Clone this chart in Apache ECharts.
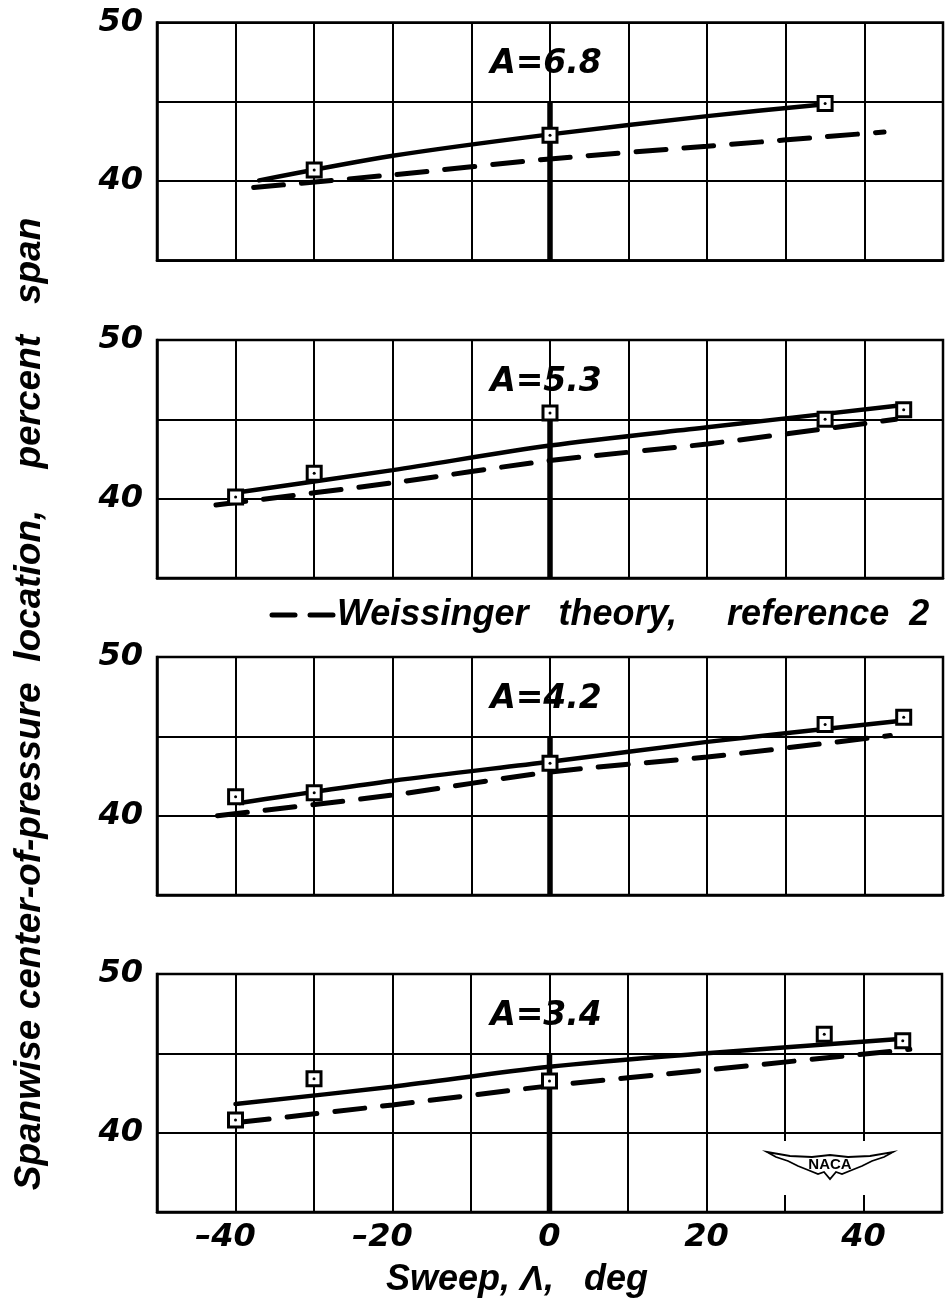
<!DOCTYPE html>
<html>
<head>
<meta charset="utf-8">
<script src="https://cdn.jsdelivr.net/npm/echarts@6/dist/echarts.min.js"></script>
<style>
html,body{margin:0;padding:0;background:#fff;}
#c{width:945px;height:1304px;}
</style>
</head>
<body>
<div id="c"></div>
<script>
// ---------- data ----------
const panelLabels = ['A=6.8', 'A=5.3', 'A=4.2', 'A=3.4'];
const sweepTicks = [-40, -20, 0, 20, 40];
const cpTicks = [40, 50];

// A = 6.8
const test68Sweep = [-30, 0, 35];
const test68Cp = [40.7, 42.9, 44.9];
const fair68Sweep = [-37, -20, 0, 20, 35];
const fair68Cp = [40.05, 41.6, 42.95, 44.1, 44.85];
const theory68Sweep = [-37.7, -20, 0, 20, 42.5];
const theory68Cp = [39.6, 40.4, 41.4, 42.2, 43.1];

// A = 5.3
const test53Sweep = [-40, -30, 0, 35, 45];
const test53Cp = [40.1, 41.6, 45.4, 45.0, 45.6];
const fair53Sweep = [-39.6, -20, 0, 20, 45];
const fair53Cp = [40.4, 41.8, 43.35, 44.5, 45.9];
const theory53Sweep = [-42.5, -20, 0, 20, 44];
const theory53Cp = [39.6, 41.0, 42.4, 43.45, 45.0];

// A = 4.2
const test42Sweep = [-40, -30, 0, 35, 45];
const test42Cp = [41.2, 41.45, 43.3, 45.75, 46.2];
const fair42Sweep = [-39.5, -20, 0, 20, 45];
const fair42Cp = [40.8, 42.2, 43.4, 44.65, 46.0];
const theory42Sweep = [-42.3, -20, 0, 20, 43.3];
const theory42Cp = [40.0, 41.3, 42.75, 43.7, 45.05];

// A = 3.4
const test34Sweep = [-40, -30, 0, 35, 45];
const test34Cp = [40.8, 43.4, 43.25, 46.2, 45.8];
const fair34Sweep = [-40, -20, 0, 20, 44.6];
const fair34Cp = [41.8, 42.9, 44.15, 45.0, 45.9];
const theory34Sweep = [-39.5, -20, 0, 20, 45.9];
const theory34Cp = [40.65, 41.75, 42.95, 43.95, 45.25];

// heavy reference bar at zero sweep
const refSweep = [0, 0];
const refCp = [35, 45];

// ---------- layout ----------
const gridTops = [22.5, 340, 657, 974];
const gridLeft = 157, gridWidth = 786, gridHeight = 238;

const zip = (a, b) => a.map((v, i) => [v, b[i]]);
const panels = [
  {test: zip(test68Sweep, test68Cp), fair: zip(fair68Sweep, fair68Cp), theory: zip(theory68Sweep, theory68Cp)},
  {test: zip(test53Sweep, test53Cp), fair: zip(fair53Sweep, fair53Cp), theory: zip(theory53Sweep, theory53Cp)},
  {test: zip(test42Sweep, test42Cp), fair: zip(fair42Sweep, fair42Cp), theory: zip(theory42Sweep, theory42Cp)},
  {test: zip(test34Sweep, test34Cp), fair: zip(fair34Sweep, fair34Cp), theory: zip(theory34Sweep, theory34Cp)}
];

const numFont = '"DejaVu Sans"';
const txtFont = '"Liberation Sans"';
const grids = [], xAxes = [], yAxes = [], series = [];

panels.forEach((p, i) => {
  grids.push({
    left: gridLeft, top: gridTops[i], width: gridWidth, height: gridHeight,
    show: true, borderColor: '#000', borderWidth: 2.5, backgroundColor: 'transparent'
  });
  xAxes.push({
    gridIndex: i, type: 'value', min: -50, max: 50, interval: 10,
    axisLine: {show: true, onZero: false, lineStyle: {color: '#000', width: 2.5}},
    axisTick: {show: false},
    splitLine: {show: true, lineStyle: {color: '#000', width: 2}},
    axisLabel: {
      show: i === 3, margin: 10, interval: 0, showMinLabel: true, showMaxLabel: true,
      color: '#000', fontFamily: numFont, fontWeight: 'bold', fontStyle: 'italic', fontSize: 32,
      formatter: v => sweepTicks.includes(v) ? (v < 0 ? '\u2013' + (-v) + '{s| }' : String(v)) : '',
      rich: {s: {width: 20, fontSize: 32}}
    }
  });
  yAxes.push({
    gridIndex: i, type: 'value', min: 35, max: 50, interval: 5,
    axisLine: {show: true, onZero: false, lineStyle: {color: '#000', width: 2.5}},
    axisTick: {show: false},
    splitLine: {show: true, lineStyle: {color: '#000', width: 2}},
    axisLabel: {
      show: true, margin: 14, showMinLabel: true, showMaxLabel: true,
      color: '#000', fontFamily: numFont, fontWeight: 'bold', fontStyle: 'italic', fontSize: 32,
      formatter: v => cpTicks.includes(v) ? String(v) : ''
    }
  });
  series.push({
    name: 'ref' + i, type: 'line', xAxisIndex: i, yAxisIndex: i, data: zip(refSweep, refCp),
    symbol: 'none', lineStyle: {color: '#000', width: 5.5, cap: 'butt'}, z: 3, silent: true
  });
  series.push({
    name: 'Weissinger theory', type: 'line', xAxisIndex: i, yAxisIndex: i, data: p.theory,
    symbol: 'none', smooth: 0.3,
    lineStyle: {color: '#000', width: 5, type: [30, 18], cap: 'round'}, z: 3, silent: true
  });
  series.push({
    name: 'Faired' + i, type: 'line', xAxisIndex: i, yAxisIndex: i, data: p.fair,
    symbol: 'none', smooth: 0.3,
    lineStyle: {color: '#000', width: 4.5, cap: 'round'}, z: 4, silent: true
  });
  series.push({
    name: 'Test' + i, type: 'scatter', xAxisIndex: i, yAxisIndex: i, data: p.test,
    symbol: 'rect', symbolSize: 14,
    itemStyle: {color: '#fff', borderColor: '#000', borderWidth: 3, opacity: 1}, z: 5, silent: true
  });
  series.push({
    name: 'TestDot' + i, type: 'scatter', xAxisIndex: i, yAxisIndex: i, data: p.test,
    symbol: 'circle', symbolSize: 3,
    itemStyle: {color: '#000', opacity: 1}, z: 6, silent: true
  });
});

const graphic = [];
panelLabels.forEach((t, i) => {
  graphic.push({
    type: 'text', x: 546, y: gridTops[i] + 42, z: 50,
    style: {text: t, fill: '#000', font: 'italic bold 33px ' + numFont,
            align: 'center', verticalAlign: 'middle', textAlign: 'center', textVerticalAlign: 'middle'}
  });
});
// legend key (dashed sample + text)
graphic.push({type: 'line', z: 50, shape: {x1: 272, y1: 615, x2: 295, y2: 615},
  style: {stroke: '#000', lineWidth: 5, lineCap: 'round'}});
graphic.push({type: 'line', z: 50, shape: {x1: 310, y1: 615, x2: 333, y2: 615},
  style: {stroke: '#000', lineWidth: 5, lineCap: 'round'}});
graphic.push({
  type: 'text', x: 337, y: 615, z: 50,
  style: {text: 'Weissinger   theory,     reference  2', fill: '#000', font: 'italic bold 36px ' + txtFont,
          align: 'left', verticalAlign: 'middle', textAlign: 'left', textVerticalAlign: 'middle'}
});
// axis titles
graphic.push({
  type: 'text', x: 30, y: 704, rotation: Math.PI / 2, z: 50,
  style: {text: 'Spanwise center-of-pressure  location,    percent   span', fill: '#000',
          font: 'italic bold 37px ' + txtFont,
          align: 'center', verticalAlign: 'middle', textAlign: 'center', textVerticalAlign: 'middle'}
});
graphic.push({
  type: 'text', x: 386, y: 1280, z: 50,
  style: {text: 'Sweep, \u039B,   deg', fill: '#000', font: 'italic bold 36px ' + txtFont,
          align: 'left', verticalAlign: 'middle', textAlign: 'left', textVerticalAlign: 'middle'}
});
// NACA emblem
graphic.push({type: 'rect', z: 60, shape: {x: 768, y: 1141, width: 124, height: 54}, style: {fill: '#fff'}});
graphic.push({
  type: 'polygon', z: 61,
  shape: {points: [[767,1152],[790,1156],[812,1157],[830,1155],[848,1157],[870,1156],[893,1152],
                   [884,1157],[872,1161],[862,1166],[852,1170],[842,1174],[836,1172],[830,1179],
                   [824,1172],[818,1174],[808,1170],[798,1166],[788,1161],[776,1157]]},
  style: {fill: '#fff', stroke: '#000', lineWidth: 1.8}
});
graphic.push({
  type: 'text', x: 830, y: 1165, z: 62,
  style: {text: 'NACA', fill: '#000', font: 'bold 15px ' + txtFont,
          align: 'center', verticalAlign: 'middle', textAlign: 'center', textVerticalAlign: 'middle'}
});

const chart = echarts.init(document.getElementById('c'), null, {renderer: 'canvas'});
chart.setOption({
  animation: false,
  backgroundColor: '#fff',
  grid: grids,
  xAxis: xAxes,
  yAxis: yAxes,
  series: series,
  graphic: graphic
});
</script>
</body>
</html>
